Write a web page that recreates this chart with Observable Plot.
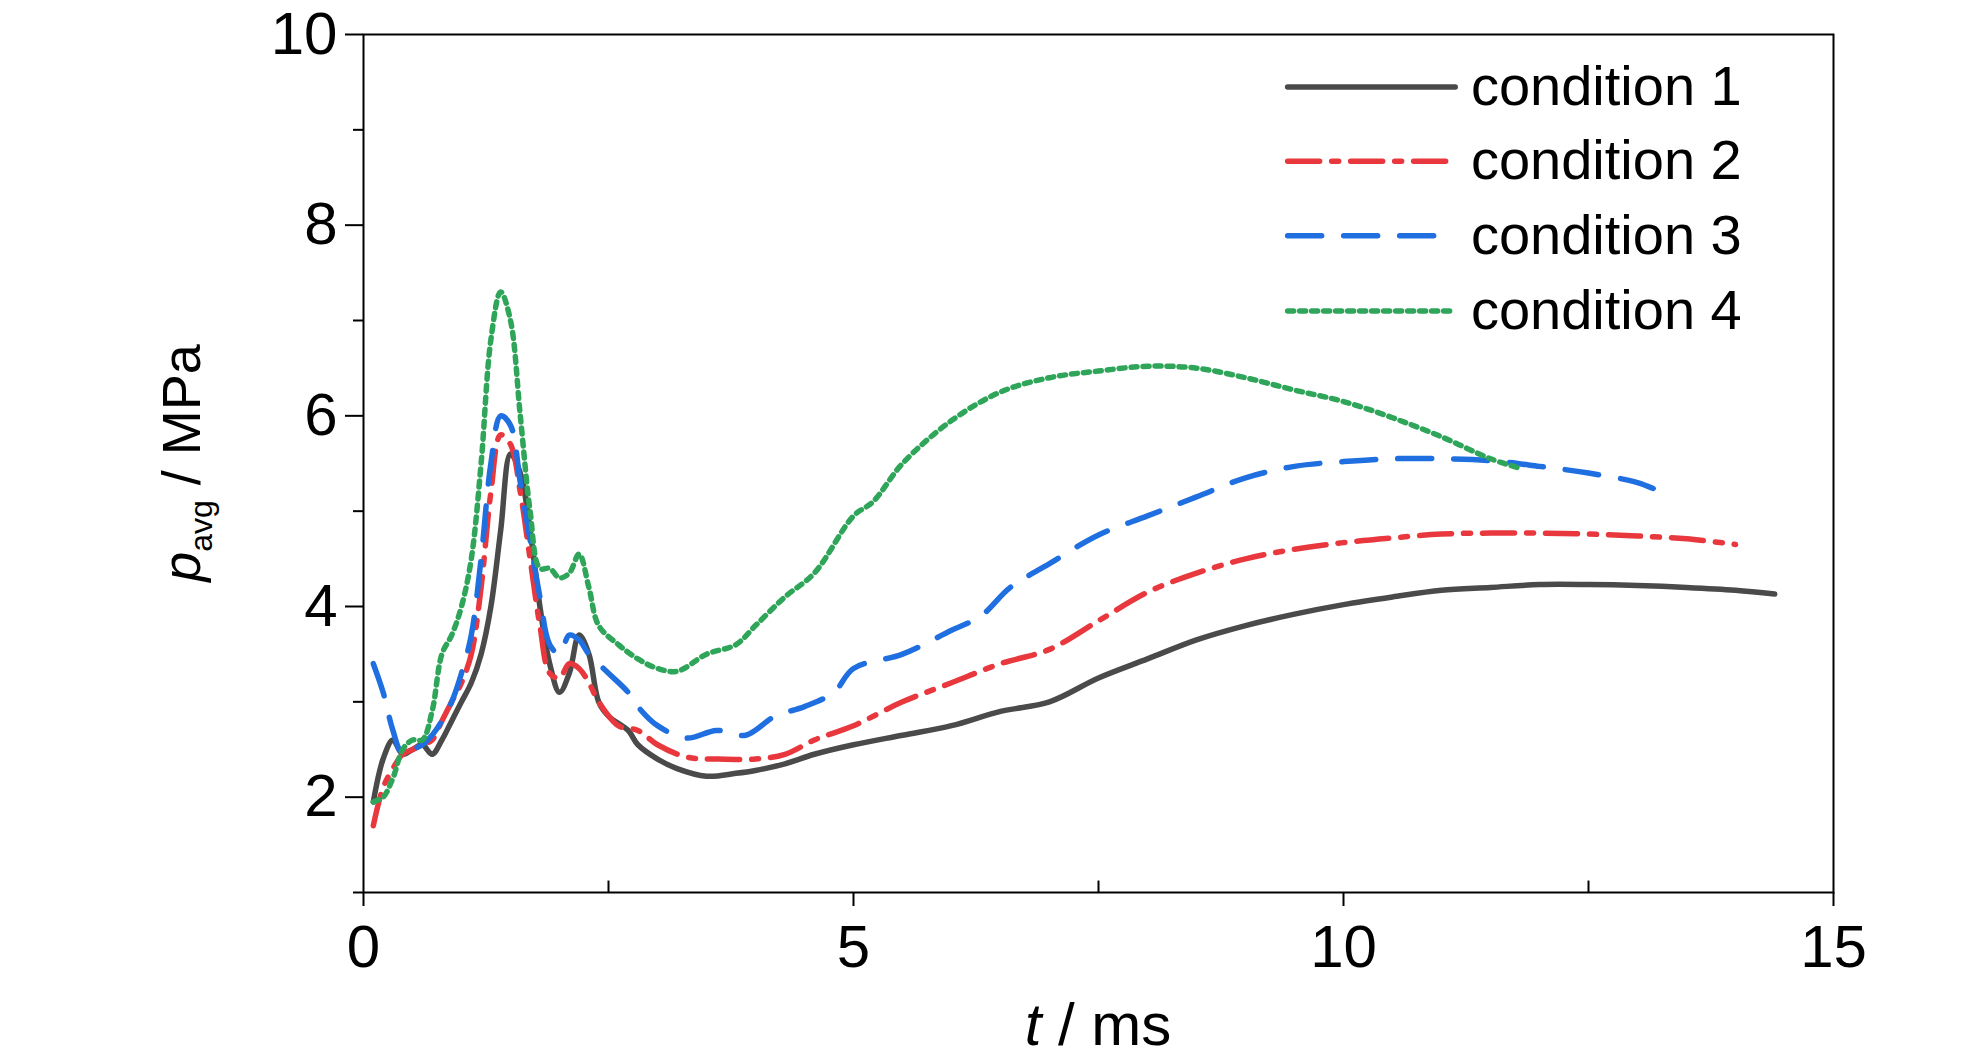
<!DOCTYPE html>
<html><head><meta charset="utf-8">
<script src="https://cdn.jsdelivr.net/npm/d3@7"></script>
<script src="https://cdn.jsdelivr.net/npm/@observablehq/plot@0.6"></script>
<style>body{margin:0;background:#fff}</style>
</head><body><div id="c"></div>
<script>
const c1 = [[0.1,1.95],[0.2,2.4],[0.3,2.6],[0.4,2.45],[0.5,2.5],[0.6,2.55],[0.7,2.45],[0.8,2.6],[0.9,2.8],[1.0,3.0],[1.1,3.2],[1.2,3.5],[1.3,4.0],[1.4,4.8],[1.5,5.6],[1.6,5.4],[1.7,4.8],[1.8,4.0],[1.9,3.4],[2.0,3.1],[2.1,3.3],[2.2,3.7],[2.3,3.5],[2.4,3.0],[2.5,2.85],[2.7,2.7],[2.8,2.55],[3.0,2.4],[3.2,2.3],[3.5,2.22],[3.8,2.25],[4.0,2.28],[4.3,2.35],[4.6,2.45],[5.0,2.55],[5.5,2.65],[6.0,2.75],[6.5,2.9],[7.0,3.0],[7.5,3.25],[8.0,3.45],[8.5,3.65],[9.0,3.8],[9.5,3.92],[10.0,4.02],[10.5,4.1],[11.0,4.17],[11.5,4.2],[12.0,4.23],[12.5,4.23],[13.0,4.22],[13.5,4.2],[14.0,4.17],[14.4,4.13]];
const c2 = [[0.1,1.7],[0.2,2.1],[0.3,2.3],[0.4,2.45],[0.5,2.5],[0.6,2.55],[0.7,2.6],[0.8,2.8],[0.9,3.0],[1.0,3.2],[1.1,3.5],[1.2,4.2],[1.3,5.2],[1.4,5.8],[1.5,5.7],[1.6,5.2],[1.7,4.5],[1.8,3.8],[1.9,3.3],[2.0,3.25],[2.1,3.4],[2.2,3.35],[2.3,3.2],[2.4,3.0],[2.6,2.75],[2.8,2.7],[3.0,2.55],[3.3,2.42],[3.6,2.4],[4.0,2.4],[4.3,2.45],[4.6,2.6],[5.0,2.75],[5.5,3.0],[6.0,3.2],[6.5,3.4],[7.0,3.55],[7.5,3.85],[8.0,4.15],[8.5,4.35],[9.0,4.5],[9.5,4.6],[10.0,4.67],[10.5,4.72],[11.0,4.76],[11.5,4.77],[12.0,4.77],[12.5,4.76],[13.0,4.74],[13.5,4.71],[14.0,4.65]];
const c3 = [[0.1,3.4],[0.2,3.1],[0.3,2.7],[0.4,2.45],[0.5,2.5],[0.6,2.55],[0.7,2.65],[0.8,2.8],[0.9,3.0],[1.0,3.3],[1.1,3.7],[1.2,4.5],[1.3,5.5],[1.4,6.0],[1.5,5.9],[1.6,5.3],[1.7,4.7],[1.8,4.1],[1.9,3.6],[2.0,3.5],[2.1,3.7],[2.2,3.65],[2.3,3.5],[2.5,3.3],[2.7,3.1],[2.8,2.95],[3.0,2.75],[3.3,2.62],[3.6,2.7],[3.9,2.65],[4.2,2.85],[4.5,2.95],[4.8,3.1],[5.0,3.35],[5.5,3.5],[6.0,3.75],[6.3,3.9],[6.6,4.2],[7.0,4.45],[7.5,4.75],[8.0,4.95],[8.5,5.15],[9.0,5.35],[9.5,5.47],[10.0,5.52],[10.5,5.55],[11.0,5.55],[11.5,5.53],[12.0,5.47],[12.5,5.4],[13.0,5.3],[13.2,5.22]];
const c4 = [[0.1,1.95],[0.2,2.0],[0.3,2.2],[0.4,2.5],[0.5,2.6],[0.6,2.6],[0.7,2.9],[0.8,3.5],[0.9,3.7],[1.0,4.0],[1.1,4.5],[1.2,5.5],[1.3,6.8],[1.4,7.3],[1.5,7.0],[1.6,6.0],[1.7,5.0],[1.8,4.4],[1.9,4.4],[2.0,4.3],[2.1,4.35],[2.2,4.55],[2.3,4.2],[2.4,3.8],[2.6,3.6],[2.8,3.45],[3.0,3.35],[3.2,3.32],[3.5,3.5],[3.8,3.6],[4.0,3.8],[4.3,4.1],[4.6,4.35],[5.0,4.95],[5.2,5.1],[5.5,5.5],[6.0,5.95],[6.5,6.25],[7.0,6.4],[7.5,6.47],[8.0,6.52],[8.5,6.5],[9.0,6.4],[9.5,6.27],[10.0,6.15],[10.5,5.98],[11.0,5.78],[11.5,5.55],[11.8,5.45]];
const names = ["condition 1","condition 2","condition 3","condition 4"];
const colors = ["#4a4a4a","#e8383d","#1f6fe0","#2fa55a"];
const dashes = [null,"32,12,7,12","34,22","6,6"];
const xTicks = [0,5,10,15];
const xMinor = [2.5,7.5,12.5];
const yTicks = [2,4,6,8,10];
const yMinor = [1,3,5,7,9];
const legX = [9.43,11.14], legLabelX = 11.3, legY = [9.45,8.67,7.89,7.1];

const series = [c1,c2,c3,c4];
const font = "'Liberation Sans Narrow','Arial Narrow','Liberation Sans',sans-serif";
const marks = [Plot.frame({stroke:"#000",strokeWidth:2})];
series.forEach((s,i)=>{
  marks.push(Plot.line(s,{x:d=>d[0],y:d=>d[1],stroke:colors[i],strokeWidth:5.5,strokeDasharray:dashes[i],curve:"catmull-rom"}));
  marks.push(Plot.line([[legX[0],legY[i]],[legX[1],legY[i]]],{x:d=>d[0],y:d=>d[1],stroke:colors[i],strokeWidth:5.5,strokeDasharray:dashes[i]}));
});
marks.push(Plot.text(names.map((n,i)=>({n,y:legY[i]})),{x:()=>legLabelX,y:"y",text:"n",textAnchor:"start",fontSize:56,fill:"#000"}));
marks.push(Plot.ruleX(xMinor,{x:d=>d,y1:1,y2:1.12,stroke:"#000",strokeWidth:2}));
marks.push(Plot.axisX(xTicks,{tickSize:14,tickPadding:18,fontSize:60,strokeWidth:2,label:null,tickFormat:d=>d}));
marks.push(Plot.axisY(yTicks,{tickSize:18,tickPadding:8,fontSize:60,strokeWidth:2,label:null,tickFormat:d=>d}));
marks.push(Plot.axisY(yMinor,{tickSize:10,strokeWidth:2,label:null,tickFormat:()=>""}));
const chart = Plot.plot({
  width:1984,height:1063,marginLeft:363,marginRight:151,marginTop:34,marginBottom:171,
  x:{domain:[0,15]},y:{domain:[1,10]},
  style:{fontFamily:font,color:"#000",background:"#fff"},
  marks
});
const svg = d3.select(chart);
const yl = svg.append("text").attr("transform","translate(200,463) rotate(-90)").attr("text-anchor","middle")
  .attr("font-family","'Liberation Sans',Arial,sans-serif").attr("font-size",54).attr("fill","#000");
yl.append("tspan").attr("font-style","italic").text("p");
yl.append("tspan").attr("font-size",32).attr("dy",12).text("avg");
yl.append("tspan").attr("dy",-12).text(" / MPa");
const xl = svg.append("text").attr("x",1098).attr("y",1045).attr("text-anchor","middle")
  .attr("font-family",font).attr("font-size",60).attr("fill","#000");
xl.append("tspan").attr("font-style","italic").text("t");
xl.append("tspan").text(" / ms");
document.getElementById("c").appendChild(chart);
</script></body></html>
